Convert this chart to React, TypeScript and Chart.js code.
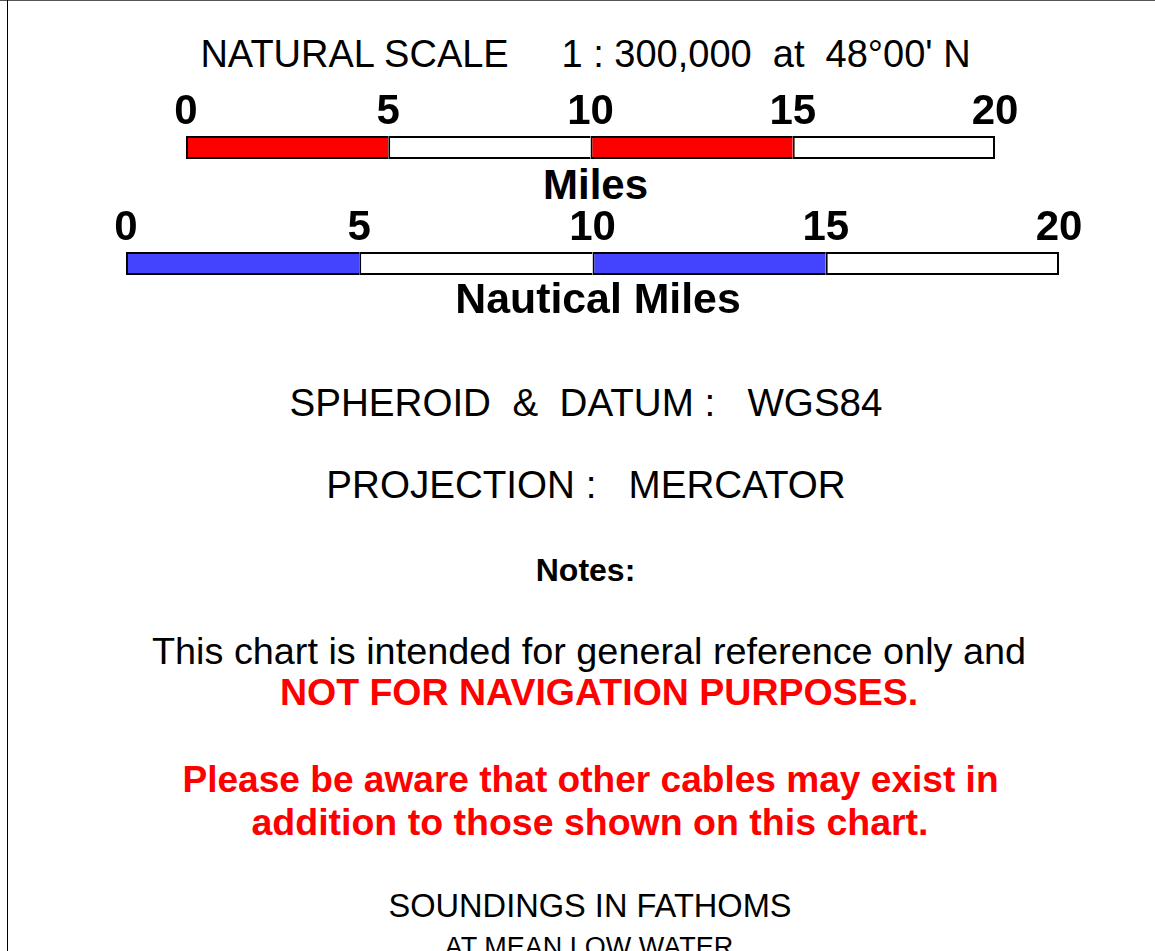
import React, { useEffect, useRef } from "react";
import { Chart, registerables } from "chart.js";

Chart.register(...registerables);

// ---- data ----
const scaleTicks = [0, 5, 10, 15, 20];
const milesSegments = [5, 5, 5, 5];
const nauticalSegments = [5, 5, 5, 5];
const milesColors = ["#FF0000", "#FFFFFF", "#FF0000", "#FFFFFF"];
const nauticalColors = ["#4444FF", "#FFFFFF", "#4444FF", "#FFFFFF"];
const milesLabel = "Miles";
const nauticalLabel = "Nautical Miles";
const headerText = "NATURAL SCALE     1 : 300,000  at  48°00' N";
const spheroidText = "SPHEROID  &  DATUM :   WGS84";
const projectionText = "PROJECTION :   MERCATOR";
const notesTitle = "Notes:";
const noteLine1 = "This chart is intended for general reference only and";
const noteLine2 = "NOT FOR NAVIGATION PURPOSES.";
const warnLine1 = "Please be aware that other cables may exist in";
const warnLine2 = "addition to those shown on this chart.";
const soundings1 = "SOUNDINGS IN FATHOMS";
const soundings2 = "AT MEAN LOW WATER";

const FONT = '"Liberation Sans", Arial, Helvetica, sans-serif';
const AXIS_H = 45;

type BarProps = {
  segments: number[];
  colors: string[];
  canvasTop: number;
  canvasHeight: number;
  padLeft: number;
  padRight: number;
  padTop: number;
};

function ScaleBar({ segments, colors, canvasTop, canvasHeight, padLeft, padRight, padTop }: BarProps) {
  const ref = useRef<HTMLCanvasElement | null>(null);
  useEffect(() => {
    if (!ref.current) return;
    const last = segments.length - 1;
    const chart = new Chart(ref.current, {
      type: "bar",
      data: {
        labels: [""],
        datasets: segments.map((v, i) => ({
          data: [v],
          backgroundColor: colors[i],
          borderColor: "#000000",
          borderWidth: { top: 2, bottom: 2, left: 2, right: i === last ? 2 : 0 },
          borderSkipped: false,
          inflateAmount: 0,
          barPercentage: 1,
          categoryPercentage: 1,
        })),
      },
      options: {
        indexAxis: "y",
        animation: false,
        responsive: false,
        devicePixelRatio: 1,
        layout: { padding: { left: padLeft, right: padRight, top: padTop, bottom: 0 } },
        plugins: { legend: { display: false }, tooltip: { enabled: false } },
        scales: {
          x: {
            type: "linear",
            position: "top",
            stacked: true,
            min: scaleTicks[0],
            max: scaleTicks[scaleTicks.length - 1],
            afterBuildTicks: (axis: any) => {
              axis.ticks = scaleTicks.map((t) => ({ value: t }));
            },
            afterFit: (axis: any) => {
              axis.height = AXIS_H;
            },
            grid: { display: false, drawTicks: false },
            border: { display: false },
            ticks: {
              padding: 3,
              color: "#000000",
              font: { family: FONT, size: 42, weight: "bold", lineHeight: 1 },
              maxRotation: 0,
              autoSkip: false,
            },
          },
          y: { stacked: true, display: false },
        },
      },
    } as any);
    return () => chart.destroy();
  }, []);
  return (
    <canvas
      ref={ref}
      width={1155}
      height={canvasHeight}
      style={{ position: "absolute", left: 0, top: canvasTop, width: 1155, height: canvasHeight }}
    />
  );
}

type TProps = { cx: number; base: number; size: number; bold?: boolean; color?: string; children: React.ReactNode };

function T({ cx, base, size, bold, color, children }: TProps) {
  return (
    <div
      style={{
        position: "absolute",
        left: cx,
        top: base - 0.8465 * size,
        transform: "translateX(-50%)",
        whiteSpace: "pre",
        fontSize: size,
        lineHeight: `${size}px`,
        fontWeight: bold ? 700 : 400,
        color: color || "#000000",
        fontFamily: FONT,
      }}
    >
      {children}
    </div>
  );
}

export default function App() {
  return (
    <div
      style={{
        position: "absolute",
        left: 0,
        top: 0,
        width: 1155,
        height: 951,
        overflow: "hidden",
        background: "#ffffff",
        fontFamily: FONT,
      }}
    >
      <div style={{ position: "absolute", left: 0, top: 0, width: 1155, height: 1, background: "#555555" }} />
      <div style={{ position: "absolute", left: 7, top: 0, width: 1, height: 951, background: "#000000" }} />

      <T cx={585.5} base={67} size={38}>{headerText}</T>

      <ScaleBar
        segments={milesSegments}
        colors={milesColors}
        canvasTop={80}
        canvasHeight={79}
        padLeft={186}
        padRight={160}
        padTop={11}
      />
      <T cx={595.5} base={200} size={42} bold>{milesLabel}</T>

      <ScaleBar
        segments={nauticalSegments}
        colors={nauticalColors}
        canvasTop={196}
        canvasHeight={79}
        padLeft={126}
        padRight={96}
        padTop={11}
      />
      <T cx={598} base={313} size={42.8} bold>{nauticalLabel}</T>

      <T cx={586} base={416.5} size={38.6}>{spheroidText}</T>
      <T cx={586} base={499} size={38.6}>{projectionText}</T>

      <T cx={585.5} base={581} size={32} bold>{notesTitle}</T>

      <T cx={589} base={665} size={37.8}>{noteLine1}</T>
      <T cx={599} base={706} size={37.5} bold color="#FF0000">{noteLine2}</T>

      <T cx={590.5} base={792} size={37.1} bold color="#FF0000">{warnLine1}</T>
      <T cx={590} base={836} size={37.5} bold color="#FF0000">{warnLine2}</T>

      <T cx={590} base={918} size={32.6}>{soundings1}</T>
      <T cx={589} base={957} size={27}>{soundings2}</T>
    </div>
  );
}
